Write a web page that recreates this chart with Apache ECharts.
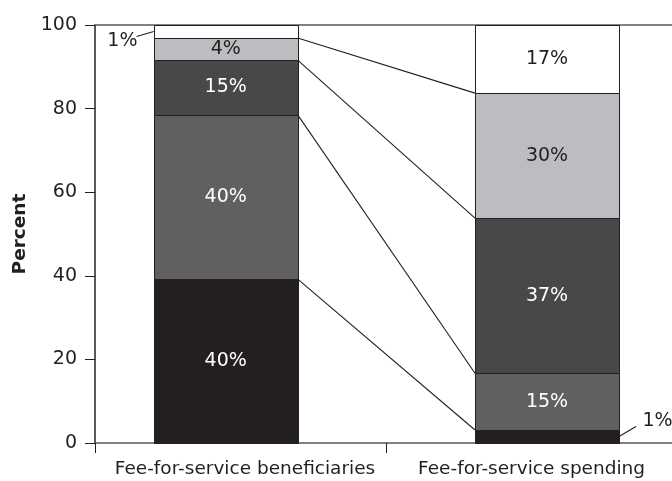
<!DOCTYPE html>
<html>
<head>
<meta charset="utf-8">
<title>Fee-for-service chart</title>
<script src="https://cdn.jsdelivr.net/npm/echarts@6/dist/echarts.min.js"></script>
<style>
  html, body { margin: 0; padding: 0; background: #fff; }
  #chart { width: 672px; height: 481px; }
</style>
</head>
<body>
<div id="chart"></div>
<script>
// categories (bars sit at x = 1 and x = 2 on a value axis)
var categories = ['Fee-for-service beneficiaries', 'Fee-for-service spending'];
var catPos = [1, 2];
// where the category names are printed (centred in each half of the axis)
var catLabelPos = [1.06, 1.952];

// segment heights as drawn, bottom to top
var beneficiaries = [39.2, 39.3, 13.1, 5.3, 3.1];
var spending = [3.1, 13.6, 37.1, 29.9, 16.3];

// printed labels, bottom to top
var beneficiaryLabels = ['40%', '40%', '15%', '4%', '1%'];
var spendingLabels = ['1%', '15%', '37%', '30%', '17%'];

var segColors = ['#231f20', '#606062', '#48484a', '#bcbdc0', '#ffffff'];
var textColors = ['#ffffff', '#ffffff', '#ffffff', '#231f20', '#231f20'];
var yTicks = [0, 20, 40, 60, 80, 100];

var FONT = '"DejaVu Sans"';
var INK = '#231f20';
var BAR_W = 144;
var X_MIN = 0.5932, X_MAX = 2.389;

var chart = echarts.init(document.getElementById('chart'));

function cumulative(arr) {
    var out = [], s = 0;
    for (var i = 0; i < arr.length; i++) { s += arr[i]; out.push(s); }
    return out;
}
var cumL = cumulative(beneficiaries);
var cumR = cumulative(spending);

// stacked segments: [x, base, top, segment index, category index]
var segments = [];
[beneficiaries, spending].forEach(function (vals, c) {
    var base = 0;
    for (var k = 0; k < vals.length; k++) {
        segments.push([catPos[c], base, base + vals[k], k, c]);
        base += vals[k];
    }
});
var allLabels = [beneficiaryLabels, spendingLabels];

function renderSegment(params, api) {
    var x = api.value(0);
    var p0 = api.coord([x, api.value(1)]);
    var p1 = api.coord([x, api.value(2)]);
    var k = api.value(3), c = api.value(4);
    var left = Math.round(p0[0] - BAR_W / 2) + 0.5;
    var top = Math.round(p1[1]) + 0.5;
    var bottom = Math.round(p0[1]) + 0.5;
    var text = allLabels[c][k];
    var cy = (p0[1] + p1[1]) / 2;
    var tx = p0[0], ty = cy, align = 'center', fill = textColors[k];
    // the two tiny 1% segments get outside labels
    if (c === 0 && k === 4) { tx = left - 17; ty = cy + 10; align = 'right'; fill = INK; }
    if (c === 1 && k === 0) { tx = left + BAR_W + 23; ty = cy - 15.5; align = 'left'; fill = INK; }
    return {
        type: 'group',
        children: [{
            type: 'rect',
            shape: { x: left, y: top, width: BAR_W, height: bottom - top },
            style: { fill: segColors[k], stroke: INK, lineWidth: 1 }
        }, {
            type: 'text',
            x: tx, y: ty,
            z2: 10,
            style: {
                text: text, fill: fill, align: align, verticalAlign: 'middle',
                fontFamily: 'DejaVu Sans', fontSize: 19
            }
        }]
    };
}

// connector lines between matching segment tops
var links = [];
for (var j = 0; j < 4; j++) {
    links.push([catPos[0], cumL[j], catPos[1], cumR[j]]);
}

// leader lines for the outside 1% labels: [x, y, side]
var leaders = [
    [catPos[0], cumL[3] + beneficiaries[4] / 2, -1],
    [catPos[1], spending[0] / 2, 1]
];

var option = {
    animation: false,
    backgroundColor: '#ffffff',
    grid: { left: 95, right: 0, top: 25, bottom: 38 },
    xAxis: [{
        type: 'value',
        min: X_MIN,
        max: X_MAX,
        axisLine: { show: true, onZero: false, lineStyle: { color: '#5a5a5a', width: 1.5 } },
        axisTick: { show: true, customValues: [X_MIN, 1.5], length: 10, lineStyle: { color: INK } },
        axisLabel: {
            customValues: catLabelPos,
            formatter: function (v) { return v < 1.5 ? categories[0] : categories[1]; },
            color: INK, fontFamily: FONT, fontSize: 18.5, margin: 17
        },
        splitLine: { show: false }
    }, {
        type: 'value',
        position: 'top',
        min: X_MIN,
        max: X_MAX,
        axisLine: { show: true, onZero: false, lineStyle: { color: '#5a5a5a', width: 1.5 } },
        axisTick: { show: false },
        axisLabel: { show: false },
        splitLine: { show: false }
    }],
    yAxis: {
        type: 'value',
        min: yTicks[0],
        max: yTicks[yTicks.length - 1],
        interval: 20,
        name: 'Percent',
        nameLocation: 'middle',
        nameGap: 63,
        nameRotate: 90,
        nameTextStyle: { fontFamily: FONT, fontSize: 18.5, fontWeight: 'bold', color: INK },
        axisLine: { show: true, onZero: false, lineStyle: { color: INK, width: 1.5 } },
        axisTick: { show: true, length: 10, lineStyle: { color: INK } },
        axisLabel: { color: INK, fontFamily: FONT, fontSize: 19, margin: 18 },
        splitLine: { show: false }
    },
    series: [{
        type: 'custom',
        silent: true,
        z: 2,
        encode: { x: 0, y: [1, 2] },
        data: segments,
        renderItem: renderSegment
    }, {
        type: 'custom',
        silent: true,
        clip: false,
        z: 3,
        encode: { x: [0, 2], y: [1, 3] },
        data: links,
        renderItem: function (params, api) {
            var a = api.coord([api.value(0), api.value(1)]);
            var b = api.coord([api.value(2), api.value(3)]);
            return {
                type: 'line',
                shape: { x1: a[0] + BAR_W / 2, y1: a[1], x2: b[0] - BAR_W / 2, y2: b[1] },
                style: { stroke: INK, lineWidth: 1.1 }
            };
        }
    }, {
        type: 'custom',
        silent: true,
        clip: false,
        z: 3,
        encode: { x: 0, y: 1 },
        data: leaders,
        renderItem: function (params, api) {
            var p = api.coord([api.value(0), api.value(1)]);
            var side = api.value(2);
            var x0 = p[0] + side * BAR_W / 2;
            var dy = side < 0 ? 5 : -10;
            return {
                type: 'line',
                shape: { x1: x0, y1: p[1], x2: x0 + side * 17, y2: p[1] + dy },
                style: { stroke: INK, lineWidth: 1.1 }
            };
        }
    }]
};
chart.setOption(option);
</script>
</body>
</html>
